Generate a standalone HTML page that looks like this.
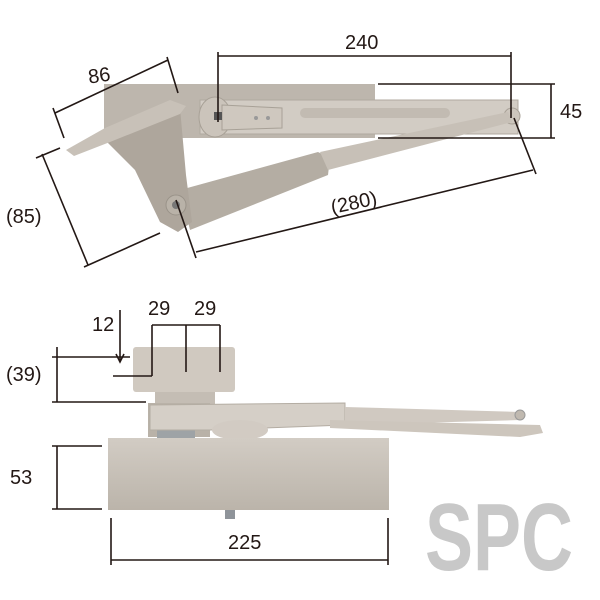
<!DOCTYPE html>
<html><head><style>body{margin:0;background:#fff}svg{display:block}</style></head><body>
<svg width="600" height="600" viewBox="0 0 600 600" xmlns="http://www.w3.org/2000/svg" font-family="Liberation Sans, sans-serif">
<defs>
<linearGradient id="g" x1="0" y1="0" x2="0" y2="1"><stop offset="0" stop-color="#d2ccc4"/><stop offset="1" stop-color="#bbb4aa"/></linearGradient>
</defs>
<!-- TOP VIEW -->
<rect x="104" y="84" width="271" height="54" fill="#bdb6ad"/>
<rect x="200" y="100" width="318" height="34" fill="#d2ccc4" stroke="#b0a99f"/>
<rect x="300" y="108" width="150" height="10" rx="5" fill="#c2bbb2"/>
<ellipse cx="215" cy="117" rx="16" ry="20" fill="#cbc4bb" stroke="#a8a197"/>
<path d="M222 105 L282 108 L282 128 L222 130 Z" fill="#cfc8bf" stroke="#a8a197"/>
<rect x="214" y="112" width="8" height="8" fill="#555"/>
<circle cx="256" cy="118" r="2" fill="#999"/><circle cx="268" cy="118" r="2" fill="#999"/>
<circle cx="512" cy="116" r="8" fill="#cdc6bd" stroke="#a8a197"/>
<path d="M180 190 L318 152 L330 158 L328 175 L190 230 Z" fill="#b4ada3"/>
<path d="M320 152 L508 112 L512 122 L328 170 Z" fill="#c7c0b7"/>
<path d="M105 140 L180 108 L186 175 L192 222 L178 232 L160 222 L135 170 Z" fill="#aea69c"/>
<path d="M66 150 L105 128 L170 100 L186 106 L180 114 L110 142 L74 156 Z" fill="#c8c1b8"/>
<circle cx="176" cy="205" r="10" fill="#b9b2a8" stroke="#9a9389"/>
<circle cx="176" cy="205" r="4" fill="#777"/>
<g stroke="#231815" stroke-width="1.6" fill="none">
<line x1="218" y1="56" x2="511" y2="56"/><line x1="218" y1="52" x2="218" y2="122"/><line x1="511" y1="52" x2="511" y2="118"/>
<line x1="378" y1="84" x2="555" y2="84"/><line x1="378" y1="138" x2="555" y2="138"/><line x1="551" y1="84" x2="551" y2="138"/>
<line x1="55" y1="113" x2="168" y2="60"/><line x1="53" y1="108" x2="64" y2="138"/><line x1="167" y1="57" x2="178" y2="93"/>
<line x1="42" y1="154" x2="88" y2="265"/><line x1="36" y1="158" x2="60" y2="148"/><line x1="84" y1="267" x2="160" y2="233"/>
<line x1="196" y1="252" x2="533" y2="170"/><line x1="176" y1="200" x2="196" y2="258"/><line x1="514" y1="118" x2="536" y2="174"/>
</g>
<g fill="#231815" font-size="20">
<text x="345" y="49">240</text>
<text x="560" y="118">45</text>
<text x="88" y="82" transform="rotate(-8 100 75)">86</text>
<text x="6" y="223">(85)</text>
<text x="330" y="208" transform="rotate(-12 360 200)">(280)</text>
<text x="92" y="331">12</text>
<text x="148" y="315">29</text>
<text x="194" y="315">29</text>
<text x="6" y="381">(39)</text>
<text x="10" y="484">53</text>
<text x="228" y="549">225</text>
</g>
<!-- SIDE VIEW -->
<rect x="133" y="347" width="102" height="45" rx="3" fill="#d0c9c0"/>
<rect x="155" y="392" width="60" height="13" fill="#c4bdb4"/>
<rect x="148" y="403" width="62" height="34" fill="#b9b2a8"/>
<rect x="157" y="425" width="38" height="18" rx="5" fill="#9ea3a6"/>
<path d="M150 405 L345 403 L345 425 L210 430 L150 430 Z" fill="#d5cfc7" stroke="#b4ada3"/>
<path d="M345 407 L520 412 L520 420 L345 425 Z" fill="#d0c9c1"/>
<path d="M330 420 L540 425 L543 433 L520 437 L330 428 Z" fill="#cdc6bd"/>
<circle cx="520" cy="415" r="5" fill="#c0b9b0" stroke="#999"/>
<ellipse cx="240" cy="430" rx="28" ry="10" fill="#d2cbc3"/>
<rect x="108" y="438" width="281" height="72" fill="url(#g)"/>
<rect x="225" y="510" width="10" height="9" fill="#8f949a"/>
<g stroke="#231815" stroke-width="1.6" fill="none">
<line x1="120" y1="310" x2="120" y2="362"/><polyline points="116,354 120,362 124,354"/>
<line x1="113" y1="376" x2="152" y2="376"/><line x1="152" y1="376" x2="152" y2="325"/>
<line x1="152" y1="325" x2="220" y2="325"/><line x1="186" y1="325" x2="186" y2="372"/><line x1="220" y1="325" x2="220" y2="372"/>
<line x1="52" y1="357" x2="130" y2="357"/><line x1="52" y1="402" x2="146" y2="402"/><line x1="57" y1="347" x2="57" y2="402"/>
<line x1="52" y1="446" x2="102" y2="446"/><line x1="52" y1="509" x2="102" y2="509"/><line x1="57" y1="446" x2="57" y2="509"/>
<line x1="111" y1="518" x2="111" y2="565"/><line x1="388" y1="518" x2="388" y2="565"/><line x1="111" y1="560" x2="388" y2="560"/>
</g>
<text x="425" y="570" font-size="96" font-weight="bold" fill="#c8c8c8" textLength="148" lengthAdjust="spacingAndGlyphs">SPC</text>
</svg>
</body></html>
